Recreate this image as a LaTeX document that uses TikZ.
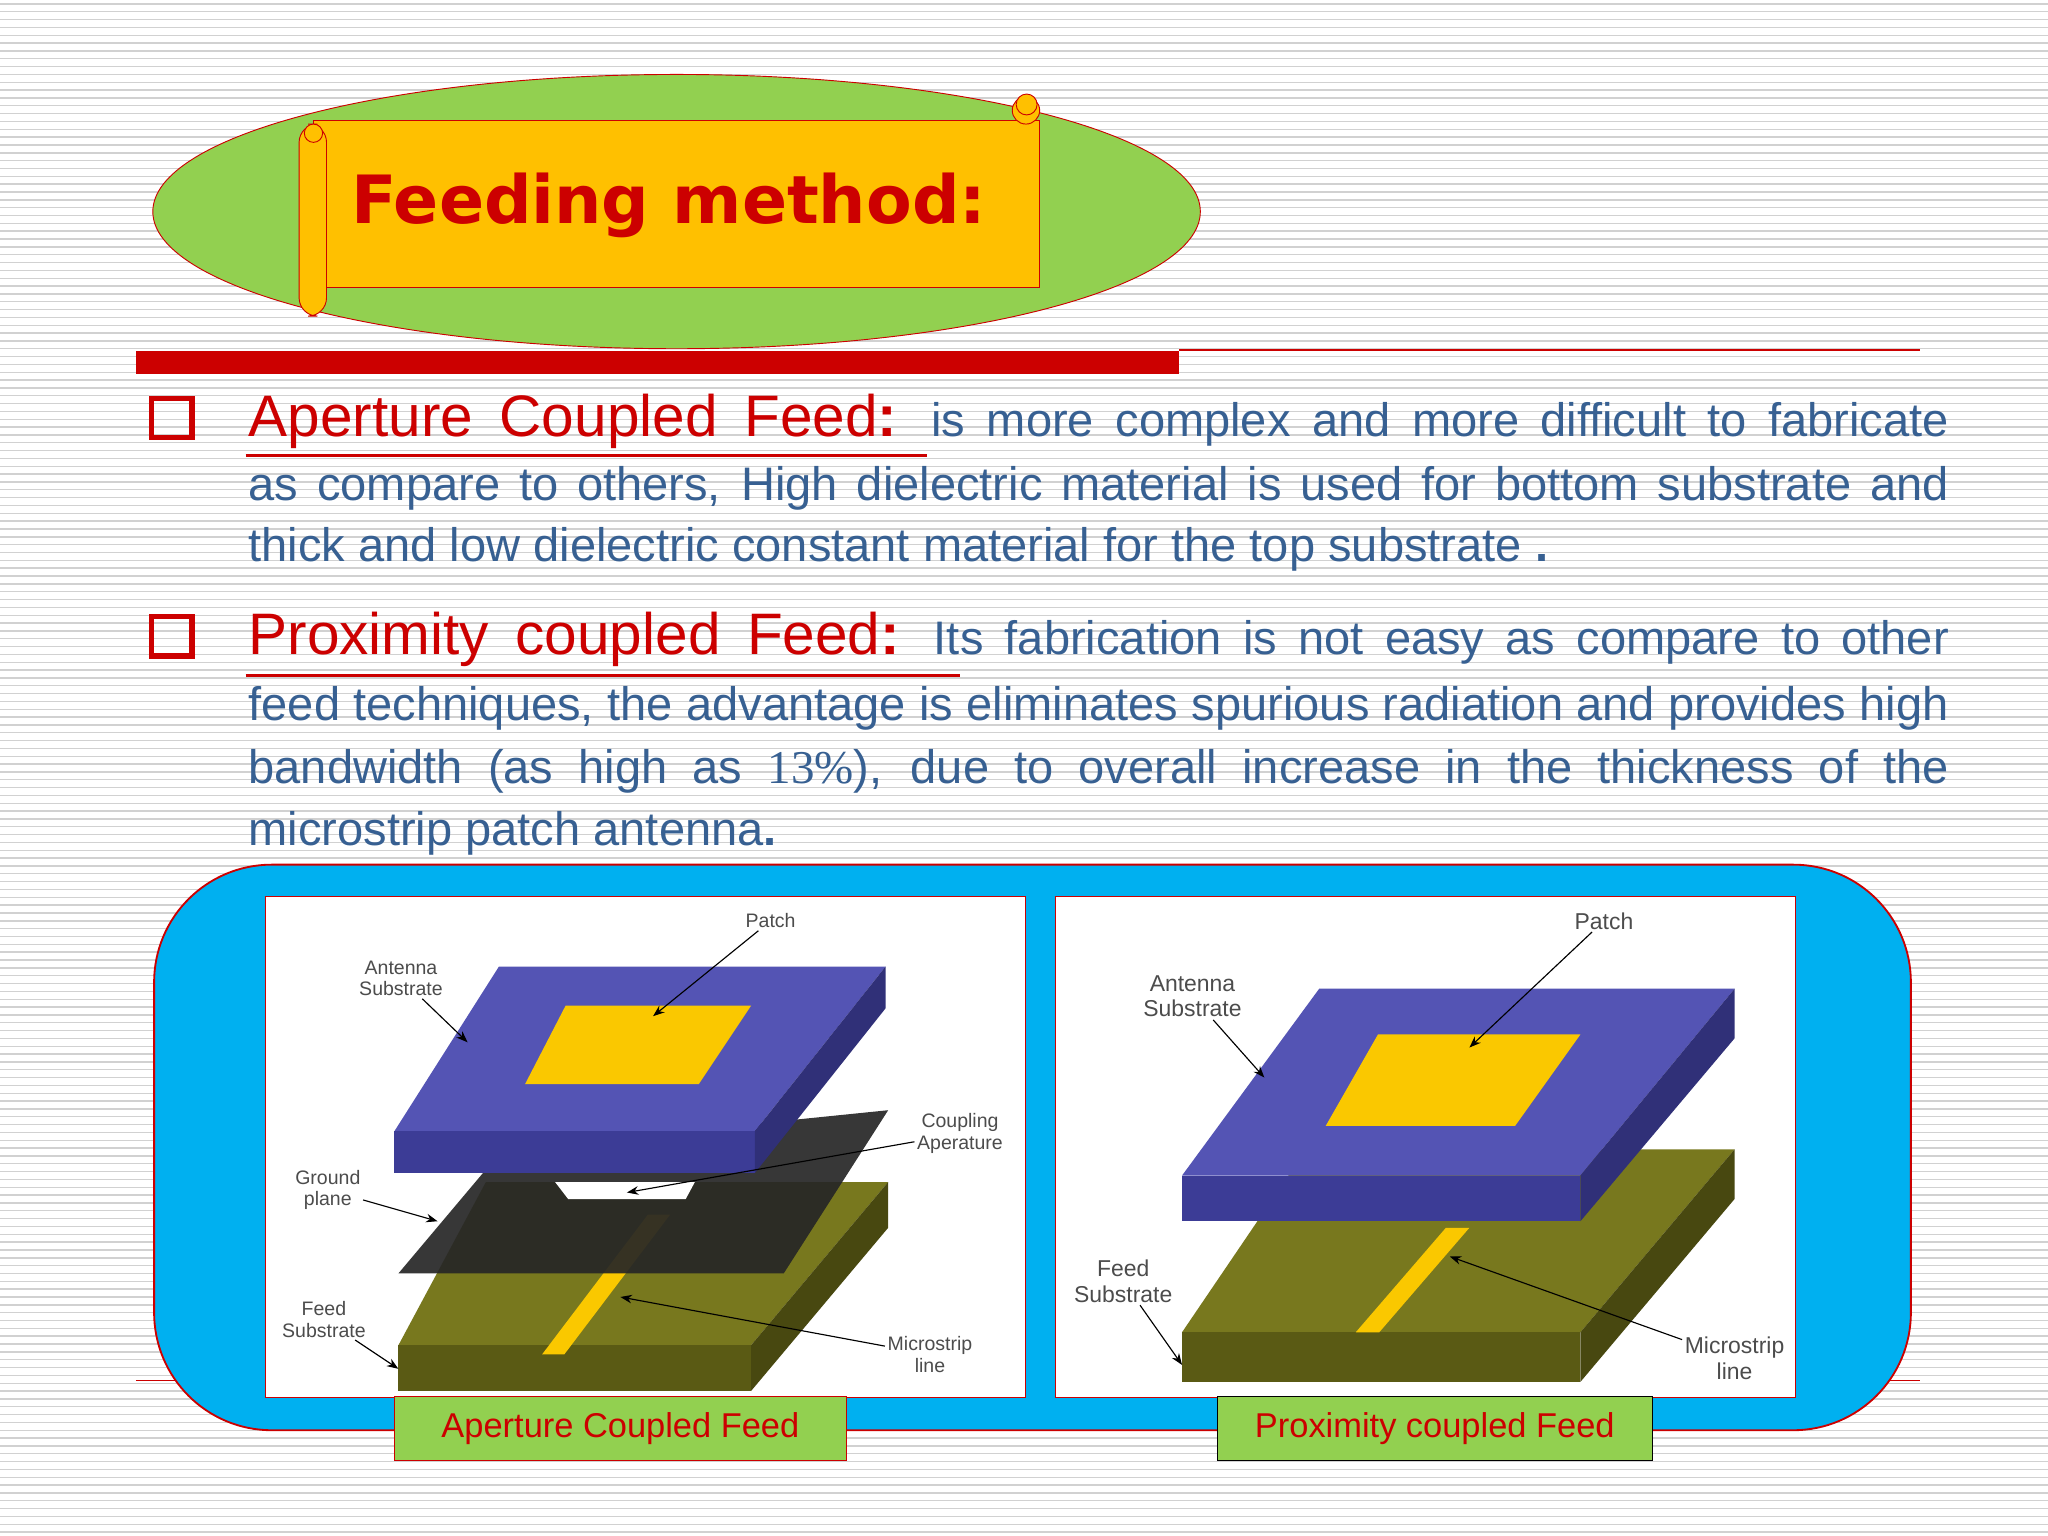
\documentclass[tikz,border=0pt]{standalone}
\usepackage{fontspec}
\setmainfont{Liberation Sans}
\newfontfamily\serifx{Liberation Serif}
\newfontfamily\dejav{DejaVu Sans}
\usetikzlibrary{shapes.geometric,arrows.meta}
\definecolor{grn}{RGB}{146,208,80}
\definecolor{org}{RGB}{255,192,0}
\definecolor{rd}{RGB}{204,0,0}
\definecolor{bl}{RGB}{55,96,146}
\definecolor{sky}{RGB}{0,176,240}
\definecolor{slabb}{RGB}{84,84,180}
\definecolor{slabbd}{RGB}{60,60,150}
\definecolor{olv}{RGB}{120,120,30}
\definecolor{olvd}{RGB}{90,90,20}
\definecolor{pat}{RGB}{250,200,0}
\tikzset{
 body/.style={anchor=base west,inner sep=0,text=bl,font=\fontsize{20.5}{24}\selectfont},
 lab/.style={font=\fontsize{8.5}{9.5}\selectfont,text=black!70,align=center,inner sep=1pt},
 ptr/.style={draw=black,line width=0.5pt,-{Stealth[length=5pt]}},
 capbox/.style={draw=rd,fill=grn,text=rd,minimum height=0.98cm,font=\fontsize{15}{18}\selectfont},
}
\newcommand{\hd}[1]{{\color{rd}\fontsize{25.5}{28}\selectfont #1}}
\begin{document}
\begin{tikzpicture}[x=0.02cm,y=-0.02cm]
\useasboundingbox (0,0) rectangle (1568,1176);
\fill[white] (0,0) rectangle (1568,1176);
\foreach \y in {3,9,...,1176} \draw[black!18,line width=0.6pt] (0,\y) -- (1568,\y);
% title
\node[ellipse,draw=rd,fill=grn,minimum width=802*0.02cm,minimum height=210*0.02cm] (ell) at (518,162) {};
\draw[rd,fill=org] (240,92) rectangle (796,220);
\draw[rd,fill=org,rounded corners=8] (229,95) rectangle (250,242);
\draw[rd,fill=org] (240,102) circle (7);
\draw[rd,fill=org,rounded corners=6] (775,74) rectangle (796,95);
\draw[rd,fill=org] (786,80) circle (8);
\node[text=rd,font=\dejav\bfseries\fontsize{29}{32}\selectfont] (title) at (512,157) {Feeding method:};
\fill[rd] (104,269) rectangle (903,286);
\draw[rd,line width=0.8pt] (903,268) -- (1470,268);
% bullets
\draw[rd,line width=2.5pt] (116,305) rectangle (147,335);
\draw[rd,line width=2.5pt] (116,472) rectangle (147,502);
\node[body] (l1) at (190,334) {\makebox[26.04cm][s]{\hd{Aperture Coupled Feed\textbf{:}} is more complex and more difficult to fabricate}};
\draw[rd,line width=1.3pt] (188,349) -- (710,349);
\node[body] (l2) at (190,383) {\makebox[26.04cm][s]{as compare to others, High dielectric material is used for bottom substrate and}};
\node[body] (l3) at (190,430) {thick and low dielectric constant material for the top substrate \textbf{.}};
\node[body] (p1) at (190,501) {\makebox[26.04cm][s]{\hd{Proximity coupled Feed\textbf{:}} Its fabrication is not easy as compare to other}};
\draw[rd,line width=1.3pt] (188,517) -- (735,517);
\node[body] (p2) at (190,552) {\makebox[26.04cm][s]{feed techniques, the advantage is eliminates spurious radiation and provides high}};
\node[body] (p3) at (190,600) {\makebox[26.04cm][s]{bandwidth (as high as {\serifx 13\%}), due to overall increase in the thickness of the}};
\node[body] (p4) at (190,647) {microstrip patch antenna\textbf{.}};
% blue frame
\draw[rd,line width=0.6pt] (104,1057) -- (1470,1057);
\draw[rd,fill=sky,rounded corners=90*0.02cm,line width=0.8pt] (118,662) rectangle (1463,1095);
\draw[rd,fill=white] (203,686) rectangle (785,1070);
\draw[rd,fill=white] (808,686) rectangle (1375,1070);
% left antenna: feed substrate
\fill[olv] (305,1030) -- (372,905) -- (680,905) -- (575,1030) -- cycle;
\fill[olvd] (305,1030) rectangle (575,1065);
\fill[olvd!80!black] (575,1030) -- (680,905) -- (680,940) -- (575,1065) -- cycle;
\fill[pat] (415,1037) -- (432,1037) -- (513,930) -- (496,930) -- cycle;
% ground plane
\fill[black!85,opacity=0.92] (305,975) -- (385,880) -- (680,850) -- (600,975) -- cycle;
\fill[white] (425,905) -- (435,918) -- (525,918) -- (532,905) -- cycle;
% antenna substrate
\fill[slabb] (302,866) -- (382,740) -- (678,740) -- (578,866) -- cycle;
\fill[slabbd] (302,866) rectangle (578,898);
\fill[slabbd!80!black] (578,866) -- (678,740) -- (678,772) -- (578,898) -- cycle;
\fill[pat] (402,830) -- (433,770) -- (575,770) -- (535,830) -- cycle;
% left labels
\node[lab] (lpatch) at (590,705) {Patch};
\node[lab] (lant) at (307,749) {Antenna\\Substrate};
\node[lab] (lcoup) at (735,868) {Coupling\\Aperature};
\node[lab] (lgnd) at (251,911) {Ground\\plane};
\node[lab] (lfeed) at (248,1010) {Feed\\Substrate};
\node[lab] (lms) at (712,1037) {Microstrip\\line};
\coordinate (a1) at (500,778); \coordinate (a2) at (358,798);
\coordinate (a3) at (480,913); \coordinate (a4) at (335,935);
\coordinate (a5) at (305,1048); \coordinate (a6) at (475,993);
\draw[ptr] (lpatch) -- (a1);
\draw[ptr] (lant) -- (a2);
\draw[ptr] (lcoup) -- (a3);
\draw[ptr] (lgnd) -- (a4);
\draw[ptr] (lfeed) -- (a5);
\draw[ptr] (lms) -- (a6);
% right antenna
\fill[olv] (905,1020) -- (1000,880) -- (1328,880) -- (1210,1020) -- cycle;
\fill[olvd] (905,1020) rectangle (1210,1058);
\fill[olvd!80!black] (1210,1020) -- (1328,880) -- (1328,918) -- (1210,1058) -- cycle;
\fill[pat] (1038,1020) -- (1056,1020) -- (1125,940) -- (1107,940) -- cycle;
\fill[slabb] (905,900) -- (1010,757) -- (1328,757) -- (1210,900) -- cycle;
\fill[slabbd] (905,900) rectangle (1210,935);
\fill[slabbd!80!black] (1210,900) -- (1328,757) -- (1328,795) -- (1210,935) -- cycle;
\fill[pat] (1015,862) -- (1055,792) -- (1210,792) -- (1160,862) -- cycle;
\node[lab,font=\fontsize{10}{11}\selectfont] (rpatch) at (1228,705) {Patch};
\node[lab,font=\fontsize{10}{11}\selectfont] (rant) at (913,763) {Antenna\\Substrate};
\node[lab,font=\fontsize{10}{11}\selectfont] (rfeed) at (860,981) {Feed\\Substrate};
\node[lab,font=\fontsize{10}{11}\selectfont] (rms) at (1328,1040) {Microstrip\\line};
\coordinate (b1) at (1125,802); \coordinate (b2) at (968,825);
\coordinate (b3) at (905,1045); \coordinate (b4) at (1110,962);
\draw[ptr] (rpatch) -- (b1);
\draw[ptr] (rant) -- (b2);
\draw[ptr] (rfeed) -- (b3);
\draw[ptr] (rms) -- (b4);
% captions
\node[capbox,minimum width=346*0.02cm] (c1) at (475,1093.5) {Aperture Coupled Feed};
\node[capbox,draw=black,minimum width=333*0.02cm] (c2) at (1098.5,1093.5) {Proximity coupled Feed};
\end{tikzpicture}
\end{document}
